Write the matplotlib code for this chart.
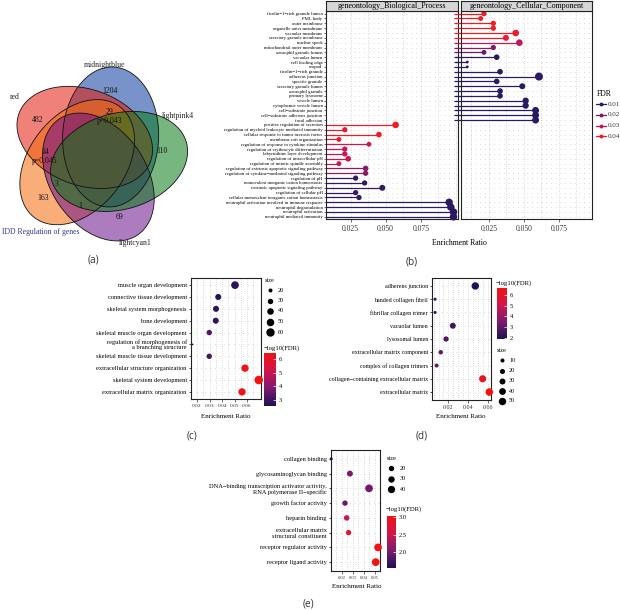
import numpy as np
import matplotlib
matplotlib.use('Agg')
import matplotlib.pyplot as plt
from matplotlib.patches import Ellipse
from matplotlib.colors import LinearSegmentedColormap, Normalize
from matplotlib.cm import ScalarMappable

plt.rcParams['font.family'] = ['Liberation Serif', 'DejaVu Serif']
W, H = 620, 610

# ---------------- data ----------------
# (a) venn
venn_sets = ['midnightblue', 'red', 'IDD Regulation of genes', 'lightcyan1', 'lightpink4']
venn_fill = ['#0a3a9e', '#e41a0a', '#f56a0a', '#6a108a', '#0a7a18']
venn_counts = [1204, 482, 163, 69, 110, 29, 14, 3, 1]
venn_notes = ['', '', '', '', '', 'p=0.043', 'p=0.045', '', '']

# (b) lollipop, GO BP / CC
b_terms = ['ficolin−1−rich granule lumen', 'PML body', 'outer membrane', 'organelle outer membrane',
           'vacuolar membrane', 'secretory granule membrane', 'nuclear speck',
           'mitochondrial outer membrane', 'azurophil granule lumen', 'vacuolar lumen',
           'cell leading edge', 'uropod', 'ficolin−1−rich granule', 'adherens junction',
           'specific granule', 'secretory granule lumen', 'azurophil granule', 'primary lysosome',
           'vesicle lumen', 'cytoplasmic vesicle lumen', 'cell−substrate junction',
           'cell−substrate adherens junction', 'focal adhesion',
           'positive regulation of secretion', 'regulation of myeloid leukocyte mediated immunity',
           'cellular response to tumor necrosis factor', 'membrane raft organization',
           'regulation of response to cytokine stimulus', 'regulation of erythrocyte differentiation',
           'labyrinthine layer development', 'regulation of intracellular pH',
           'regulation of mitotic spindle assembly',
           'regulation of extrinsic apoptotic signaling pathway',
           'regulation of cytokine−mediated signaling pathway', 'regulation of pH',
           'monovalent inorganic cation homeostasis', 'extrinsic apoptotic signaling pathway',
           'regulation of cellular pH', 'cellular monovalent inorganic cation homeostasis',
           'neutrophil activation involved in immune response', 'neutrophil degranulation',
           'neutrophil activation', 'neutrophil mediated immunity']
b_onto = ['CC'] * 23 + ['BP'] * 20
b_ratio = [0.0214, 0.0191, 0.0281, 0.0281, 0.0441, 0.0371, 0.0467, 0.0281, 0.0214, 0.0305,
           0.0095, 0.0095, 0.0329, 0.0607, 0.0305, 0.0488, 0.0329, 0.0329, 0.0512, 0.0512,
           0.0583, 0.0583, 0.0583,
           0.0571, 0.0209, 0.0452, 0.0167, 0.0381, 0.0209, 0.0209, 0.0233, 0.0167, 0.0357,
           0.0357, 0.0286, 0.0350, 0.0476, 0.0286, 0.0310, 0.0952, 0.0964, 0.0983, 0.0983]
b_fdr = [0.040, 0.040, 0.040, 0.040, 0.040, 0.039, 0.030, 0.022, 0.018, 0.010,
         0.010, 0.010, 0.010, 0.010, 0.010, 0.010, 0.010, 0.010, 0.010, 0.010,
         0.010, 0.010, 0.010,
         0.040, 0.037, 0.040, 0.038, 0.032, 0.031, 0.031, 0.031, 0.032, 0.022,
         0.022, 0.011, 0.011, 0.011, 0.011, 0.011, 0.010, 0.010, 0.010, 0.010]
b_count = [7, 6, 7, 7, 11, 9, 11, 7, 6, 8, 2, 2, 8, 16, 8, 9, 8, 8, 10, 10, 12, 12, 12,
           11, 7, 8, 6, 6, 7, 7, 8, 6, 8, 7, 7, 7, 9, 7, 7, 14, 14, 14, 14]

# (c) BP dot plot
c_terms = ['muscle organ development', 'connective tissue development',
           'skeletal system morphogenesis', 'bone development',
           'skeletal muscle organ development',
           'regulation of morphogenesis of\na branching structure',
           'skeletal muscle tissue development', 'extracellular structure organization',
           'skeletal system development', 'extracellular matrix organization']
c_ratio = [0.0504, 0.0370, 0.0352, 0.0350, 0.0298, 0.0165, 0.0298, 0.0584, 0.0694, 0.0560]
c_logfdr = [2.75, 2.70, 2.80, 2.85, 3.30, 2.56, 3.20, 6.20, 6.44, 6.35]
c_count = [52, 35, 35, 35, 30, 8, 30, 48, 62, 48]

# (d) CC dot plot
d_terms = ['adherens junction', 'banded collagen fibril', 'fibrillar collagen trimer',
           'vacuolar lumen', 'lysosomal lumen', 'extracellular matrix component',
           'complex of collagen trimers', 'collagen−containing extracellular matrix',
           'extracellular matrix']
d_ratio = [0.0474, 0.0064, 0.0064, 0.0245, 0.0176, 0.0122, 0.0080, 0.0549, 0.0617]
d_logfdr = [1.90, 2.20, 2.20, 2.50, 2.80, 3.10, 3.00, 6.30, 6.65]
d_count = [50, 3, 3, 30, 22, 14, 10, 45, 52]

# (e) MF dot plot
e_terms = ['collagen binding', 'glycosaminoglycan binding',
           'DNA−binding transcription activator activity,\nRNA polymerase II−specific',
           'growth factor activity', 'heparin binding',
           'extracellular matrix\nstructural constituent', 'receptor regulator activity',
           'receptor ligand activity']
e_ratio = [0.0106, 0.0274, 0.0446, 0.0230, 0.0245, 0.0262, 0.0527, 0.0506]
e_logfdr = [1.55, 2.05, 2.00, 1.95, 2.50, 2.80, 3.00, 3.04]
e_count = [5, 26, 45, 20, 22, 20, 45, 45]

cmap_b = LinearSegmentedColormap.from_list('fdr', ['#2b1a62', '#7a1a6a', '#c0185a', '#ee1c24'])
norm_b = Normalize(0.01, 0.04)
cmap_r = LinearSegmentedColormap.from_list('lfdr', ['#1c1254', '#7c1a6e', '#d2164a', '#f21212'])

fig = plt.figure(figsize=(6.2, 6.1), dpi=100)
ov = fig.add_axes([0, 0, 1, 1])
ov.set_xlim(0, W)
ov.set_ylim(H, 0)
ov.axis('off')


def px_axes(x0, y0, x1, y1):
    return fig.add_axes([x0 / W, 1 - y1 / H, (x1 - x0) / W, (y1 - y0) / H])


def txt(x, y, s, **kw):
    ov.text(x, y, s, va='center', **kw)


def dotted_bg(ax, n, xgrid):
    for i in range(n):
        ax.axhline(i, color='#a8a8a8', lw=0.5, ls=(0, (0.8, 6)), zorder=0)
    for x in xgrid:
        ax.axvline(x, color='#a8a8a8', lw=0.5, ls=(0, (0.8, 2.5)), zorder=0)


def frame(ax):
    for sp in ax.spines.values():
        sp.set_linewidth(0.8)
        sp.set_color('#222222')


# ---------------- (a) venn ----------------
cx, cy = 98, 155


def ellipse_geom(k):
    th = np.deg2rad(88 + 72 * k)
    ph = th - np.deg2rad(33)
    return (cx + 22 * np.cos(ph), cy - 22 * np.sin(ph)), -np.rad2deg(th)


for k, col in enumerate(venn_fill):
    ctr, ang = ellipse_geom(k)
    ov.add_patch(Ellipse(ctr, 140, 96, angle=ang, fc=col, alpha=0.55, ec='none'))
for k in range(5):
    ctr, ang = ellipse_geom(k)
    ov.add_patch(Ellipse(ctr, 140, 96, angle=ang, fc='none', ec='#111111', lw=0.6))

count_pos = [(110, 91), (38, 120), (43, 198), (120, 217), (162, 151),
             (110, 112), (45, 152), (57, 184), (80, 206)]
for (x, y), n, note in zip(count_pos, venn_counts, venn_notes):
    txt(x, y, str(n), ha='center', fontsize=5.6, color='#111111')
    if note:
        txt(x, y + 9, note, ha='center', fontsize=5.6, color='#111111')

set_pos = [(105, 65, 'center'), (15, 97, 'center'), (2, 232, 'left'), (135, 243, 'center'),
           (178, 116, 'center')]
for (x, y, ha), name in zip(set_pos, venn_sets):
    txt(x, y, name, ha=ha, fontsize=5.6,
        color='#2b3990' if name.startswith('IDD') else '#222222')

# ---------------- (b) lollipop ----------------
nb = len(b_terms)
yb = np.arange(nb)
bx = np.array(b_ratio)
bcol = cmap_b(norm_b(np.array(b_fdr)))
bs = 2.07 * np.array(b_count)
onto = np.array(b_onto)

axb1 = px_axes(326, 11, 458, 219)
axb2 = px_axes(461, 11, 592, 219)
for ax, key, xl in [(axb1, 'BP', (0.0075, 0.1015)), (axb2, 'CC', (0.005, 0.0986))]:
    ax.set_xlim(*xl)
    ax.set_ylim(nb - 0.55, -0.55)
    dotted_bg(ax, nb, [0.0125, 0.025, 0.0375, 0.05, 0.0625, 0.075, 0.0875, 0.1])
    m = onto == key
    ax.hlines(yb[m], 0, bx[m], colors=bcol[m], lw=0.9, zorder=2, clip_on=(key == 'BP'))
    ax.scatter(bx[m], yb[m], s=bs[m], c=bcol[m], zorder=3, clip_on=False, linewidths=0)
    ax.set_xticks([0.025, 0.05, 0.075])
    ax.set_xticklabels(['0.025', '0.050', '0.075'])
    ax.tick_params(axis='x', labelsize=5.5, length=2, width=0.5, pad=2.5, colors='#333333')
    ax.set_yticks(yb)
    frame(ax)
axb1.set_yticklabels(b_terms)
axb1.tick_params(axis='y', labelsize=3.4, length=1.5, width=0.4, pad=1)
axb2.tick_params(axis='y', left=False, labelleft=False)

for (x0, x1), label in [((326, 458), 'geneontology_Biological_Process'),
                        ((461, 592), 'geneontology_Cellular_Component')]:
    st = px_axes(x0, 1, x1, 11)
    st.set_facecolor('#d6d6d6')
    st.set_xticks([])
    st.set_yticks([])
    frame(st)
    st.text(0.5, 0.45, label, ha='center', va='center', fontsize=5.8, transform=st.transAxes)

txt(459, 243, 'Enrichment Ratio', ha='center', fontsize=5.6)
txt(597, 94, 'FDR', ha='left', fontsize=5.6)
for yy, f in zip([104, 114.5, 125.5, 136], [0.01, 0.02, 0.03, 0.04]):
    c = cmap_b(norm_b(f))
    ov.plot([596, 606], [yy, yy], color=c, lw=0.9)
    ov.scatter([601], [yy], s=8, color=c, linewidths=0)
    txt(608, yy, f'{f:.2f}', ha='left', fontsize=5.0, color='#333333')


# ---------------- dot panels (c), (d), (e) ----------------
def dot_panel(box, terms, ratio, logfdr, count, xlim, xticks, xtl, size_fn, fs, xfs, lsp=0.85):
    ax = px_axes(*box)
    n = len(terms)
    y = np.arange(n)
    ax.set_xlim(*xlim)
    ax.set_ylim(n - 0.4, -0.6)
    minor = np.arange(0.005, 0.07, 0.005)
    dotted_bg(ax, n, minor)
    vmin, vmax = min(logfdr), max(logfdr)
    ax.scatter(ratio, y, s=size_fn(np.array(count)), c=logfdr, cmap=cmap_r,
               vmin=vmin, vmax=vmax, zorder=3, clip_on=False, linewidths=0)
    ax.set_yticks(y)
    ax.set_yticklabels(terms, linespacing=lsp)
    ax.set_xticks(xticks)
    ax.set_xticklabels(xtl)
    ax.tick_params(axis='y', labelsize=fs, length=1.8, width=0.5, pad=1.2)
    ax.tick_params(axis='x', labelsize=xfs, length=1.8, width=0.5, pad=1.5, colors='#333333')
    frame(ax)
    return vmin, vmax


def colorbar(box, vmin, vmax, ticks, tl):
    cax = px_axes(*box)
    cb = fig.colorbar(ScalarMappable(Normalize(vmin, vmax), cmap_r), cax=cax)
    cb.outline.set_visible(False)
    cb.set_ticks(ticks)
    cb.set_ticklabels(tl)
    cax.tick_params(labelsize=4.6, length=2, width=0.5, direction='in', color='white', pad=2)


def size_c(n):
    return 2.07 * np.maximum(0.34 * n - 2.8, 0.8)


def size_d(n):
    return 2.07 * (0.245 * n + 1.6)


def size_e(n):
    return 2.07 * (0.315 * n + 0.8)


# (c)
lo, hi = dot_panel((191, 278, 261, 399), c_terms, c_ratio, c_logfdr, c_count,
                   (0.0152, 0.0712), [0.02, 0.03, 0.04, 0.05, 0.06],
                   ['0.02', '0.03', '0.04', '0.05', '0.06'], size_c, 4.6, 3.9)
colorbar((264, 353, 276, 406), lo, hi, [3, 4, 5, 6], ['3', '4', '5', '6'])
txt(264, 348, '−log10(FDR)', ha='left', fontsize=4.8)
txt(265, 281, 'size', ha='left', fontsize=4.6)
for yy, v in zip([290, 300.5, 311, 321.5, 332], [20, 30, 40, 50, 60]):
    ov.scatter([270], [yy], s=size_c(v), color='black', linewidths=0)
    txt(278, yy, str(v), ha='left', fontsize=4.4)
txt(226, 417, 'Enrichment Ratio', ha='center', fontsize=5.0)

# (d)
lo, hi = dot_panel((432, 278, 491, 400), d_terms, d_ratio, d_logfdr, d_count,
                   (0.0033, 0.0634), [0.02, 0.04, 0.06], ['0.02', '0.04', '0.06'],
                   size_d, 4.3, 4.3)
colorbar((497, 288, 507, 339), lo, hi, [2, 3, 4, 5, 6], ['2', '3', '4', '5', '6'])
txt(496, 283, '−log10(FDR)', ha='left', fontsize=4.8)
txt(497, 350, 'size', ha='left', fontsize=4.6)
for yy, v in zip([360, 370.5, 381, 391.3, 401], [10, 20, 30, 40, 50]):
    ov.scatter([502], [yy], s=size_d(v), color='black', linewidths=0)
    txt(509, yy, str(v), ha='left', fontsize=4.4)
txt(461, 417, 'Enrichment Ratio', ha='center', fontsize=5.0)

# (e)
lo, hi = dot_panel((331, 450, 380.5, 571), e_terms, e_ratio, e_logfdr, e_count,
                   (0.0104, 0.0549), [0.02, 0.03, 0.04, 0.05],
                   ['0.02', '0.03', '0.04', '0.05'], size_e, 4.6, 3.3, lsp=1.15)
colorbar((387, 516, 396, 568), lo, hi, [2.0, 2.5, 3.0], ['2.0', '2.5', '3.0'])
txt(386, 509, '−log10(FDR)', ha='left', fontsize=4.8)
txt(387, 458, 'size', ha='left', fontsize=4.6)
for yy, v in zip([468.3, 479, 489.3], [20, 30, 40]):
    ov.scatter([391], [yy], s=size_e(v), color='black', linewidths=0)
    txt(400, yy, str(v), ha='left', fontsize=4.4)
txt(357, 586, 'Enrichment Ratio', ha='center', fontsize=5.0)

# panel tags
for x, y, s in [(93, 260, '(a)'), (412, 262, '(b)'), (192, 436, '(c)'),
                (422, 436, '(d)'), (308, 604, '(e)')]:
    ov.text(x, y, s, ha='center', va='center', fontsize=7.2, family='Open Sans', color='#333333')

fig.savefig('out.png', dpi=100)
